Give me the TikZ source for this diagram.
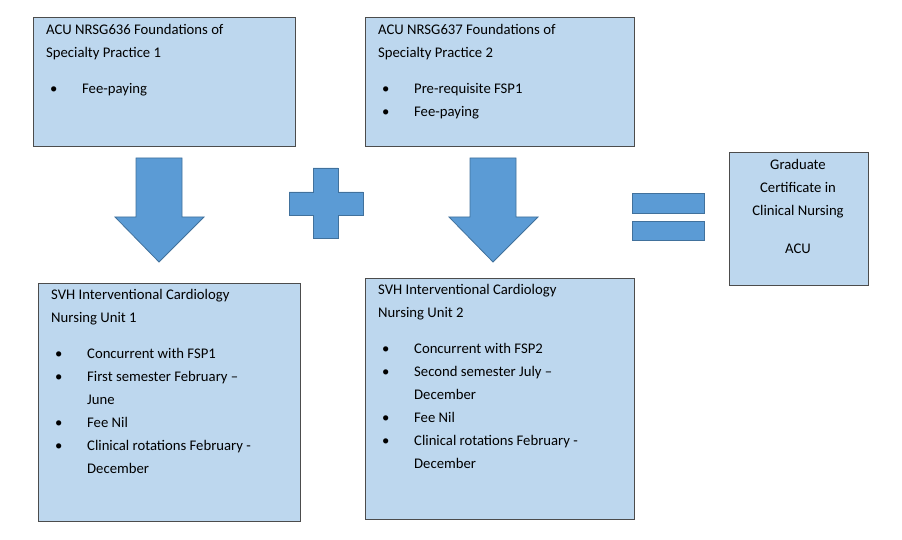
\documentclass[tikz,border=0pt]{standalone}
\usepackage{fontspec}
\setmainfont{Carlito}
\newcommand{\bl}[1]{\makebox[32pt][l]{\textbullet}#1}
\newcommand{\ind}{\hspace*{32pt}}
\begin{document}
\begin{tikzpicture}[x=1pt,y=-1pt,
  box/.style={draw=black!70,fill=boxfill,line width=0.8pt},
  arr/.style={draw=arrline,fill=arrfill,line width=0.8pt},
  txt/.style={anchor=north west,inner sep=0,align=left,font=\fontsize{14.7}{23}\selectfont},
  ]
\definecolor{boxfill}{HTML}{BDD7EE}
\definecolor{arrfill}{HTML}{5B9BD5}
\definecolor{arrline}{HTML}{41719C}
\useasboundingbox (0,0) rectangle (902,540);
\fill[white] (0,0) rectangle (902,540);
\draw[box] (33,17) rectangle (295,146);
\draw[box] (365,17) rectangle (634,146);
\draw[box] (729,152) rectangle (868,285);
\draw[box] (38,283) rectangle (300,521);
\draw[box] (365,278) rectangle (634,519);
\node[txt] (t1) at (46,24) {ACU NRSG636 Foundations of\\Specialty Practice 1\\[13pt]\hspace*{4pt}\bl{Fee-paying}};
\node[txt] (t2) at (378,24) {ACU NRSG637 Foundations of\\Specialty Practice 2\\[13pt]\hspace*{4pt}\bl{Pre-requisite FSP1}\\\hspace*{4pt}\bl{Fee-paying}};
\node[txt,anchor=north,align=center] (t3) at (798,159) {Graduate\\Certificate in\\Clinical Nursing\\[15pt]ACU};
\node[txt] (t4) at (51,289) {SVH Interventional Cardiology\\Nursing Unit 1\\[13pt]\hspace*{4pt}\bl{Concurrent with FSP1}\\\hspace*{4pt}\bl{First semester February --}\\\hspace*{4pt}\ind June\\\hspace*{4pt}\bl{Fee Nil}\\\hspace*{4pt}\bl{Clinical rotations February -}\\\hspace*{4pt}\ind December};
\node[txt] (t5) at (378,284) {SVH Interventional Cardiology\\Nursing Unit 2\\[13pt]\hspace*{4pt}\bl{Concurrent with FSP2}\\\hspace*{4pt}\bl{Second semester July --}\\\hspace*{4pt}\ind December\\\hspace*{4pt}\bl{Fee Nil}\\\hspace*{4pt}\bl{Clinical rotations February -}\\\hspace*{4pt}\ind December};
\draw[arr] (136,158) -- (182,158) -- (182,217) -- (204,217) -- (159,262) -- (115,217) -- (136,217) -- cycle;
\draw[arr] (470,158) -- (516,158) -- (516,217) -- (538,217) -- (493,262) -- (449,217) -- (470,217) -- cycle;
\draw[arr] (313,168) -- (338,168) -- (338,192) -- (363,192) -- (363,215) -- (338,215) -- (338,238) -- (313,238) -- (313,215) -- (289,215) -- (289,192) -- (313,192) -- cycle;
\draw[arr] (632,193) rectangle (704,213);
\draw[arr] (632,221) rectangle (704,240);
\end{tikzpicture}
\end{document}
